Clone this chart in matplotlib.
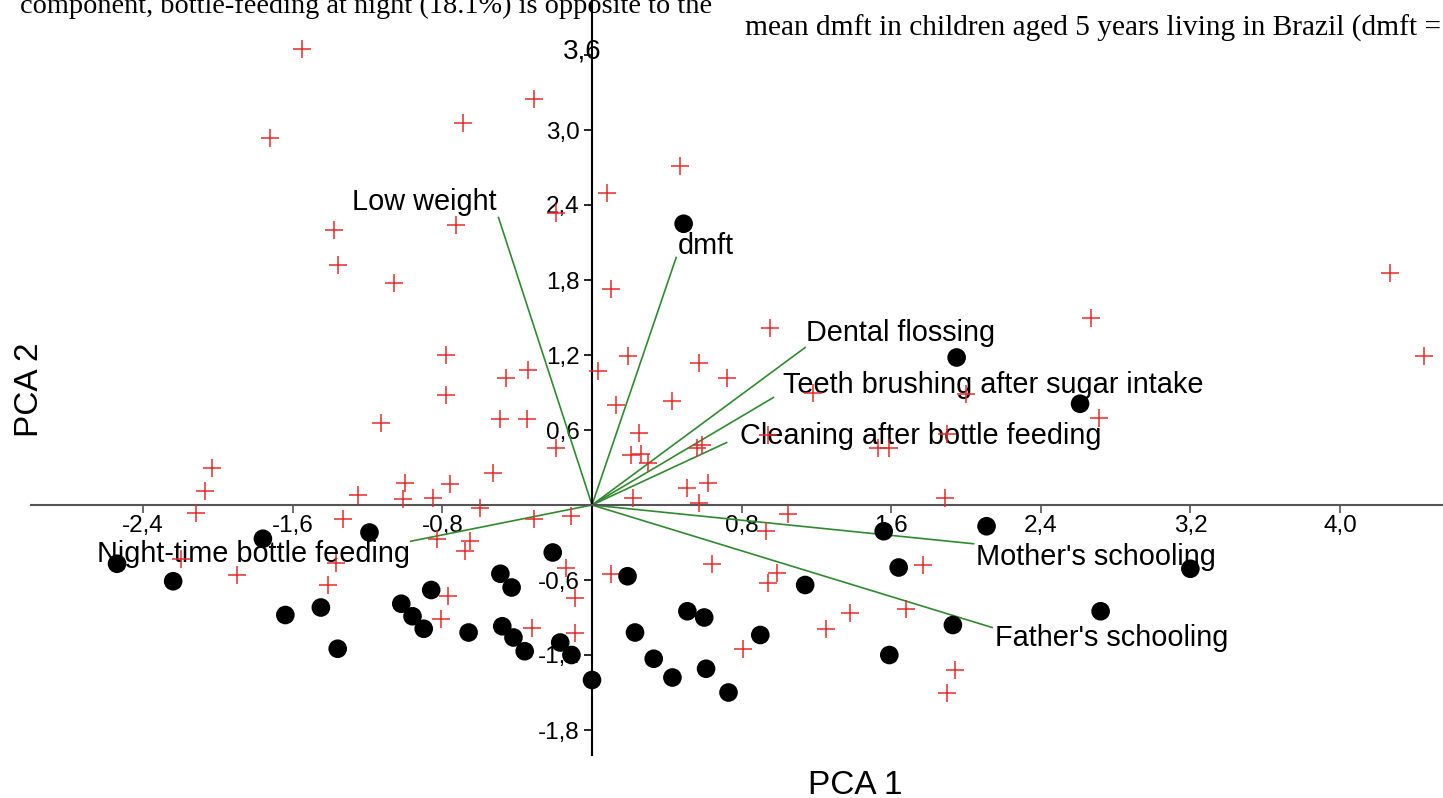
import matplotlib
matplotlib.use("Agg")
import matplotlib.pyplot as plt

plt.rcParams['font.family'] = ['Liberation Sans', 'DejaVu Sans']

# PCA scores, red crosses
cross_x = [-1.55, -0.31, -0.69, -1.72, 0.47, 0.08, -0.19, -0.73, -1.38, -1.36,
           -1.06, 0.10, 0.95, 0.19, -0.78, 0.57, 0.72, 0.03, -0.34, -0.46,
           1.18, -0.78, 0.13, 0.43, 2.00, 2.67, 4.27, 4.45, 2.71, -1.13,
           -0.49, -0.35, 0.25, -0.19, 0.21, 0.26, 0.30, 0.56, 0.59, 0.94,
           1.53, 1.59, 1.90, -2.03, -2.07, -2.12, -1.25, -1.00, -1.01, -0.85,
           -0.76, -0.53, -0.60, -0.31, -0.11, -1.33, -2.20, -1.37, -1.90, -1.41,
           -0.83, -0.65, -0.68, -0.14, -0.77, -0.09, -0.81, -0.32, -0.09, 0.22,
           0.51, 0.62, 0.57, 1.05, 0.93, 1.89, 0.10, 0.64, 0.99, 0.94,
           1.77, 0.81, 1.25, 1.38, 1.68, 1.94, 1.90]
cross_y = [3.65, 3.25, 3.06, 2.94, 2.71, 2.50, 2.34, 2.24, 2.20, 1.92,
           1.78, 1.73, 1.42, 1.19, 1.20, 1.14, 1.02, 1.07, 1.08, 1.02,
           0.90, 0.88, 0.80, 0.83, 0.89, 1.50, 1.86, 1.19, 0.70, 0.66,
           0.69, 0.69, 0.58, 0.46, 0.40, 0.41, 0.34, 0.46, 0.48, 0.56,
           0.46, 0.46, 0.57, 0.30, 0.11, -0.06, 0.08, 0.18, 0.05, 0.06,
           0.17, 0.26, -0.02, -0.11, -0.09, -0.11, -0.43, -0.46, -0.56, -0.64,
           -0.27, -0.29, -0.37, -0.50, -0.73, -0.74, -0.91, -0.98, -1.02, 0.06,
           0.14, 0.18, 0.02, -0.07, -0.21, 0.06, -0.55, -0.47, -0.54, -0.62,
           -0.48, -1.15, -0.99, -0.86, -0.83, -1.32, -1.50]

# PCA scores, black dots
dot_x = [0.49, 1.95, 2.61, 1.56, 2.11, 1.64, 3.20, 2.72, 1.93, 1.59,
         1.14, 0.90, 0.73, 0.61, 0.60, 0.51, 0.43, 0.33, 0.23, 0.19,
         0.00, -0.11, -0.17, -0.21, -0.36, -0.42, -0.48, -0.43, -0.49, -0.66,
         -0.86, -0.90, -0.96, -1.02, -1.19, -1.36, -1.45, -1.64, -1.76, -2.24,
         -2.54]
dot_y = [2.25, 1.18, 0.81, -0.21, -0.17, -0.50, -0.51, -0.85, -0.96, -1.20,
         -0.64, -1.04, -1.50, -1.31, -0.90, -0.85, -1.38, -1.23, -1.02, -0.57,
         -1.40, -1.20, -1.10, -0.38, -1.17, -1.06, -0.97, -0.66, -0.55, -1.02,
         -0.68, -0.99, -0.89, -0.79, -0.22, -1.15, -0.82, -0.88, -0.27, -0.61,
         -0.47]

# variable loadings
var_names = ["Low weight", "dmft", "Dental flossing",
             "Teeth brushing after sugar intake", "Cleaning after bottle feeding",
             "Night-time bottle feeding", "Mother's schooling", "Father's schooling"]
load_x = [-0.50, 0.45, 1.14, 0.97, 0.72, -0.97, 2.04, 2.14]
load_y = [2.30, 1.98, 1.26, 0.86, 0.50, -0.29, -0.31, -0.98]

xticks = [-2.4, -1.6, -0.8, 0.8, 1.6, 2.4, 3.2, 4.0]
yticks = [-1.8, -1.2, -0.6, 0.6, 1.2, 1.8, 2.4, 3.0, 3.6]

# label placement (pixel offset from loading end, alignment)
label_pos = [(-2, 15, 'right'), (2, 11, 'left'), (1, 15, 'left'), (10, 13, 'left'),
             (13, 7, 'left'), (-1, -13, 'right'), (3, -13, 'left'), (3, -10, 'left')]

def fmt(v):
    return f"{v:.1f}".replace('.', ',')

fig = plt.figure(figsize=(14.43, 7.98), dpi=100)
ax = fig.add_axes([0, 0, 1, 1])
ax.set_xlim(-3.166, 4.551)
ax.set_ylim(-2.344, 4.04)
ax.patch.set_visible(False)

for sp in ['top', 'right']:
    ax.spines[sp].set_visible(False)
ax.spines['left'].set_position(('data', 0))
ax.spines['bottom'].set_position(('data', 0))
ax.spines['left'].set_bounds(-2.0, 4.1)
ax.spines['bottom'].set_bounds(-3.0, 4.6)
ax.spines['left'].set_linewidth(1.5)
ax.spines['bottom'].set_linewidth(1.5)
ax.spines['left'].set_color('black')
ax.spines['bottom'].set_color('#555555')
ax.set_axisbelow(True)

ax.set_xticks(xticks)
ax.set_yticks(yticks)
ax.set_xticklabels([fmt(v) for v in xticks], fontsize=17.5)
# the top label sits over the axis line in the original, drawn separately below
ax.set_yticklabels([fmt(v) for v in yticks[:-1]] + [""], fontsize=17.5)
ax.tick_params(axis='x', direction='out', length=6, width=1.2, color='#555555', pad=1)
ax.tick_params(axis='y', direction='out', length=6, width=1.2, color='black', pad=3)
ax.annotate(fmt(yticks[-1]), (0, yticks[-1]), xytext=(-10, 3), textcoords='offset pixels',
            ha='center', va='center', fontsize=20, zorder=1)

for name, lx, ly, (dx, dy, ha) in zip(var_names, load_x, load_y, label_pos):
    ax.plot([0, lx], [0, ly], color='#2f8a2f', lw=1.2, zorder=2)
    ax.annotate(name, (lx, ly), xytext=(dx, dy), textcoords='offset pixels',
                ha=ha, va='center', fontsize=20.8, zorder=3)

ax.scatter(cross_x, cross_y, marker='+', s=160, color='#e82a2a', linewidths=1.1, zorder=4)
ax.scatter(dot_x, dot_y, marker='o', s=180, color='black', edgecolors='none', zorder=4)

fig.text(855 / 1443, 1 - 785 / 798, "PCA 1", fontsize=24, ha='center', va='center')
fig.text(30 / 1443, 1 - 390 / 798, "PCA 2", fontsize=24, ha='center', va='center',
         rotation=90)

# journal text around the figure
fig.text(20 / 1443, 1 - 13 / 798,
         "component, bottle-feeding at night (18.1%) is opposite to the",
         family='Liberation Serif', fontsize=20.4, ha='left', va='baseline')
fig.text(745 / 1443, 1 - 36 / 798,
         "mean dmft in children aged 5 years living in Brazil (dmft =",
         family='Liberation Serif', fontsize=21.2, ha='left', va='baseline')

fig.savefig("out.png", dpi=100)
